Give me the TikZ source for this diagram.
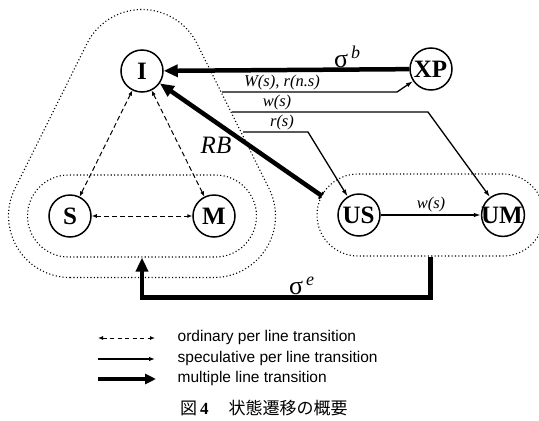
\documentclass[tikz,border=0pt]{standalone}
\usepackage{fontspec}
\setmainfont{Liberation Serif}
\newfontfamily\legendfont{Liberation Sans}
\newfontfamily\cjkfont{Noto Sans CJK JP}
\usetikzlibrary{arrows.meta,calc,shapes.misc}
\begin{document}
\begin{tikzpicture}[x=1pt,y=-1pt,
  state/.style={circle,draw,line width=1.5pt,minimum size=42pt,inner sep=0pt,font=\fontsize{25}{25}\selectfont\bfseries},
  grp/.style={draw,line width=1.1pt,dash pattern=on 1.1pt off 2.3pt},
  ordarrow/.style={line width=1pt,dash pattern=on 5pt off 3pt,{Latex[length=5pt,width=4pt]}-{Latex[length=5pt,width=4pt]}},
  specarrow/.style={line width=1.3pt,-{Latex[length=7pt,width=4.5pt]}},
  multarrow/.style={line width=4.5pt,-{Triangle[length=14pt,width=12pt]}},
  lbl/.style={font=\fontsize{16.5}{16.5}\selectfont\itshape,inner sep=0.5pt},
  legtext/.style={font=\legendfont\fontsize{15.5}{16}\selectfont,anchor=west,inner sep=0pt,text height=11pt,text depth=3.5pt}]
\useasboundingbox (0,0) rectangle (539,421);

% states
\node[state] (I) at (142,71) {I};
\node[state] (S) at (70,216) {S};
\node[state] (M) at (214,216) {M};
\node[state] (XP) at (431,69) {\hspace{-1pt}XP\hspace{-1pt}};
\node[state] (US) at (359,215) {\hspace{-1pt}US\hspace{-1pt}};
\node[state] (UM) at (503,215) {\hspace{-2pt}UM\hspace{-2pt}};

% groups
\node[grp,rounded rectangle,minimum width=229pt,minimum height=82pt,inner sep=0pt] (L) at (142,216) {};
\node[grp,rounded rectangle,minimum width=227pt,minimum height=82pt,inner sep=0pt] (R) at (430.5,215) {};
\draw[grp] ($(S)+(0,61.5)$) -- ($(M)+(0,61.5)$)
  arc[start angle=90,end angle=-26.4,radius=61.5]
  -- ($(I)+(-26.4:61.5)$)
  arc[start angle=-26.4,end angle=-153.6,radius=61.5]
  -- ($(S)+(-153.6:61.5)$)
  arc[start angle=206.4,end angle=90,radius=61.5] -- cycle;

% ordinary transitions
\draw[ordarrow] (I) -- (S);
\draw[ordarrow] (I) -- (M);
\draw[ordarrow] (S) -- (M);

% multiple line transitions
\draw[multarrow] (XP) -- (I);
\coordinate (rbs) at (322,196);
\draw[multarrow,{Bar[width=8pt,line width=2pt]}-{Triangle[length=14pt,width=12pt]}] (rbs) -- (I);
\draw[multarrow] (R.south) -- ++(0,41) -| (L.south);

% speculative transitions
\coordinate (a1) at (222,92); \coordinate (a1b) at (397,92);
\coordinate (a2) at (232,112); \coordinate (a2b) at (428,112);
\coordinate (a3) at (243,132); \coordinate (a3b) at (308,132);
\draw[specarrow] (a1) -- (a1b) -- (XP);
\draw[specarrow] (a2) -- (a2b) -- (UM);
\draw[specarrow] (a3) -- (a3b) -- (US);
\draw[specarrow] (US) -- (UM);

% labels
\node[lbl,anchor=south] (lW) at (282,90.5) {W(s), r(n.s)};
\node[lbl,anchor=south] (lw) at (277,110.5) {w(s)};
\node[lbl,anchor=south] (lr) at (282,130.5) {r(s)};
\node[lbl,anchor=south] (lus) at (431,212.5) {w(s)};
\node[font=\fontsize{25}{25}\selectfont\itshape,inner sep=0pt] (lRB) at (216,145) {RB};
\node[anchor=south west,inner sep=0pt,font=\fontsize{26}{26}\selectfont] (lsb) at (334,68) {σ\hspace{3pt}\raisebox{9pt}{\fontsize{18}{18}\selectfont\itshape b}};
\node[anchor=south west,inner sep=0pt,font=\fontsize{26}{26}\selectfont] (lse) at (289,295) {σ\hspace{3pt}\raisebox{9pt}{\fontsize{18}{18}\selectfont\itshape e}};

% legend
\coordinate (d1) at (98,338); \coordinate (d2) at (155,338);
\coordinate (t1) at (98,359); \coordinate (t2) at (155,359);
\coordinate (m1) at (98,379); \coordinate (m2) at (156,379);
\draw[line width=1pt,dash pattern=on 4pt off 3.5pt,{Latex[length=5pt,width=4pt]}-{Latex[length=5pt,width=4pt]}] (d1) -- (d2);
\draw[line width=1.3pt,-{Latex[length=6pt,width=4.5pt]}] (t1) -- (t2);
\draw[line width=4pt,-{Triangle[length=11pt,width=10pt]}] (m1) -- (m2);
\node[legtext] (g1) at (177.5,338) {ordinary per line transition};
\node[legtext] (g2) at (177.5,359) {speculative per line transition};
\node[legtext] (g3) at (177.5,379) {multiple line transition};
\node[anchor=west,inner sep=0pt,font=\fontsize{17}{17}\selectfont] (cap) at (180,408) {{\cjkfont 図}\,\textbf{4}\hspace{20pt}{\cjkfont 状態遷移の概要}};
\end{tikzpicture}
\end{document}
